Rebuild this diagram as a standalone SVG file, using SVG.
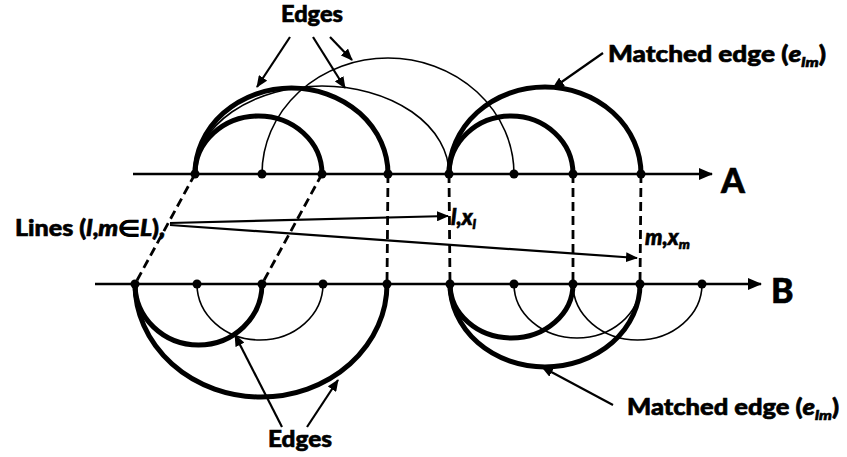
<svg xmlns="http://www.w3.org/2000/svg" width="847" height="457" viewBox="0 0 847 457">
<style>
.axis{stroke:#000;stroke-width:2.5;fill:none}
.thick{stroke:#000;stroke-width:5;fill:none}
.thin{stroke:#000;stroke-width:1.6;fill:none}
.dash{stroke:#000;stroke-width:2.8;fill:none;stroke-dasharray:9 5}
.ptr{stroke:#000;stroke-width:2.2;fill:none}
.node{fill:#000}
text{font-family:Lato,"Liberation Sans",sans-serif;font-weight:900;fill:#000;stroke:#000;stroke-width:0.6}
.lbl{font-size:22px}
.big{font-size:34px}
.it{font-style:italic}
</style>
<defs>
<marker id="ah" viewBox="0 0 12 10" refX="11" refY="5" markerWidth="12" markerHeight="10" markerUnits="userSpaceOnUse" orient="auto">
<path d="M0 0 L12 5 L0 10 Z" fill="#000"/>
</marker>
<marker id="axh" viewBox="0 0 14 12" refX="13" refY="6" markerWidth="14" markerHeight="12" markerUnits="userSpaceOnUse" orient="auto">
<path d="M0 0 L14 6 L0 12 Z" fill="#000"/>
</marker>
</defs>

<g id="axisA">
<line class="axis" x1="133" y1="174" x2="712" y2="174" marker-end="url(#axh)"/>
<text class="big" x="721" y="193">A</text>
</g>
<g id="axisB">
<line class="axis" x1="95" y1="284" x2="761" y2="284" marker-end="url(#axh)"/>
<text class="big" x="771" y="303">B</text>
</g>

<g id="connectors">
<!-- edges above A -->
<path class="thick" d="M195 174 A96.5 86 0 0 1 388 174"/>
<path class="thick" d="M195 174 A63.5 58 0 0 1 322 174"/>
<path class="thin" d="M195 174 A127 88 0 0 1 449 174"/>
<path class="thin" d="M262 174 A126 116 0 0 1 514 174"/>
<path class="thick" d="M449 174 A96 87 0 0 1 641 174"/>
<path class="thick" d="M449 174 A62 58 0 0 1 573 174"/>
<!-- edges below B -->
<path class="thick" d="M135 284 A126 113 0 0 0 387 284"/>
<path class="thick" d="M135 284 A63.5 61 0 0 0 262 284"/>
<path class="thin" d="M197 284 A63 56 0 0 0 323 284"/>
<path class="thick" d="M450 284 A95 83 0 0 0 640 284"/>
<path class="thick" d="M450 284 A61.5 54 0 0 0 573 284"/>
<path class="thin" d="M514 284 A63 54 0 0 0 640 284"/>
<path class="thin" d="M573 284 A64.5 56 0 0 0 702 284"/>
<!-- matching lines -->
<line class="dash" x1="195" y1="174" x2="135" y2="284"/>
<line class="dash" x1="322" y1="174" x2="262" y2="284"/>
<line class="dash" x1="388" y1="174" x2="387" y2="284"/>
<line class="dash" x1="449" y1="174" x2="450" y2="284"/>
<line class="dash" x1="573" y1="174" x2="573" y2="284"/>
<line class="dash" x1="641" y1="174" x2="640" y2="284"/>
</g>

<g id="nodesA">
<circle class="node" cx="195" cy="174" r="4.5"/>
<circle class="node" cx="262" cy="174" r="4.5"/>
<circle class="node" cx="322" cy="174" r="4.5"/>
<circle class="node" cx="388" cy="174" r="4.5"/>
<circle class="node" cx="449" cy="174" r="4.5"/>
<circle class="node" cx="514" cy="174" r="4.5"/>
<circle class="node" cx="573" cy="174" r="4.5"/>
<circle class="node" cx="641" cy="174" r="4.5"/>
</g>
<g id="nodesB">
<circle class="node" cx="135" cy="284" r="4.5"/>
<circle class="node" cx="197" cy="284" r="4.5"/>
<circle class="node" cx="262" cy="284" r="4.5"/>
<circle class="node" cx="323" cy="284" r="4.5"/>
<circle class="node" cx="387" cy="284" r="4.5"/>
<circle class="node" cx="450" cy="284" r="4.5"/>
<circle class="node" cx="514" cy="284" r="4.5"/>
<circle class="node" cx="573" cy="284" r="4.5"/>
<circle class="node" cx="640" cy="284" r="4.5"/>
<circle class="node" cx="702" cy="284" r="4.5"/>
</g>

<g id="label-edges-top">
<text class="lbl" x="281" y="22" textLength="62" lengthAdjust="spacingAndGlyphs">Edges</text>
<line class="ptr" x1="290" y1="37" x2="257" y2="87" marker-end="url(#ah)"/>
<line class="ptr" x1="313" y1="37" x2="345" y2="88" marker-end="url(#ah)"/>
<line class="ptr" x1="330" y1="37" x2="352" y2="60" marker-end="url(#ah)"/>
</g>

<g id="label-matched-top">
<text class="lbl" x="608" y="62" textLength="218" lengthAdjust="spacingAndGlyphs">Matched edge (<tspan class="it">e</tspan><tspan class="it" font-size="14" dy="5">lm</tspan><tspan dy="-5">)</tspan></text>
<line class="ptr" x1="603" y1="53" x2="553" y2="88" marker-end="url(#ah)"/>
</g>

<g id="label-lines">
<text class="lbl" x="15" y="236" textLength="150" lengthAdjust="spacingAndGlyphs">Lines (<tspan class="it">l</tspan>,<tspan class="it">m</tspan>∈<tspan class="it">L</tspan>),</text>
<line class="ptr" x1="170" y1="223" x2="448" y2="216" marker-end="url(#ah)"/>
<line class="ptr" x1="170" y1="225" x2="637" y2="258" marker-end="url(#ah)"/>
<text class="lbl it" x="451" y="225">l,x<tspan font-size="14" dy="4">l</tspan></text>
<text class="lbl it" x="645" y="245">m,x<tspan font-size="14" dy="4">m</tspan></text>
</g>

<g id="label-matched-bottom">
<text class="lbl" x="627" y="415" textLength="212" lengthAdjust="spacingAndGlyphs">Matched edge (<tspan class="it">e</tspan><tspan class="it" font-size="14" dy="5">lm</tspan><tspan dy="-5">)</tspan></text>
<line class="ptr" x1="613" y1="405" x2="542" y2="367" marker-end="url(#ah)"/>
</g>

<g id="label-edges-bottom">
<text class="lbl" x="268" y="447" textLength="64" lengthAdjust="spacingAndGlyphs">Edges</text>
<line class="ptr" x1="282" y1="427" x2="235" y2="335" marker-end="url(#ah)"/>
<line class="ptr" x1="307" y1="427" x2="338" y2="380" marker-end="url(#ah)"/>
</g>
</svg>
